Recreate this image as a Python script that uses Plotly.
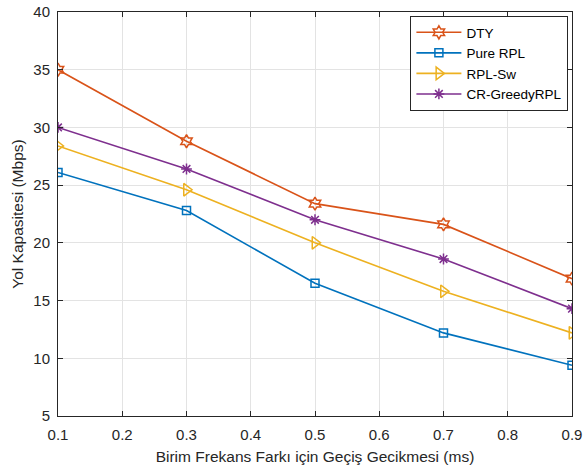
import plotly.graph_objects as go

# Switching delay per unit frequency difference (ms)
delay_ms = [0.1, 0.3, 0.5, 0.7, 0.9]

# Path capacity (Mbps) per protocol
dty = [35.0, 28.8, 23.4, 21.6, 16.9]
pure_rpl = [26.1, 22.8, 16.5, 12.2, 9.4]
rpl_sw = [28.4, 24.6, 20.0, 15.8, 12.2]
cr_greedy = [30.0, 26.4, 22.0, 18.6, 14.3]

x_ticks = [0.1, 0.2, 0.3, 0.4, 0.5, 0.6, 0.7, 0.8, 0.9]
y_ticks = [5, 10, 15, 20, 25, 30, 35, 40]

FONT = "Liberation Sans, Arial"
INK = "#262626"

series = [
    ("DTY", dty, "#D95319", "hexagram-open", 10),
    ("Pure RPL", pure_rpl, "#0072BD", "square-open", 8),
    ("RPL-Sw", rpl_sw, "#EDB120", "triangle-right-open", 11),
    ("CR-GreedyRPL", cr_greedy, "#7E2F8E", "asterisk-open", 9),
]

fig = go.Figure()
for name, ys, color, symbol, size in series:
    fig.add_trace(go.Scatter(
        x=delay_ms, y=ys, name=name, mode="lines+markers",
        line=dict(color=color, width=1.6),
        marker=dict(symbol=symbol, size=size, color=color,
                    line=dict(color=color, width=1.5)),
    ))

axis_common = dict(
    showgrid=True, gridcolor="#E3E3E3", gridwidth=1,
    showline=True, linecolor=INK, linewidth=1, mirror="ticks",
    ticks="inside", ticklen=5, tickcolor=INK,
    zeroline=False, automargin=False,
    tickfont=dict(family=FONT, size=15, color=INK),
)

fig.update_xaxes(
    range=[0.1, 0.9], tickvals=x_ticks,
    ticktext=[f"{v:.1f}" for v in x_ticks],
    ticklabelstandoff=5,
    title=dict(text="Birim Frekans Farkı için Geçiş Gecikmesi (ms)",
               font=dict(family=FONT, size=15.5, color=INK),
               standoff=9),
    **axis_common,
)
fig.update_yaxes(
    range=[5, 40], tickvals=y_ticks,
    ticklabelstandoff=4,
    title=dict(text="Yol Kapasitesi (Mbps)",
               font=dict(family=FONT, size=15.5, color=INK),
               standoff=5),
    **axis_common,
)

fig.update_layout(
    width=584, height=468,
    margin=dict(l=58, r=12, t=12, b=52),
    paper_bgcolor="white", plot_bgcolor="white",
    showlegend=True,
    legend=dict(
        x=0.993, y=0.99, xanchor="right", yanchor="top",
        bordercolor=INK, borderwidth=1, bgcolor="white",
        font=dict(family=FONT, size=13.5, color="#000000"),
        tracegroupgap=0, itemwidth=45,
    ),
)

fig.write_html("out.html")
